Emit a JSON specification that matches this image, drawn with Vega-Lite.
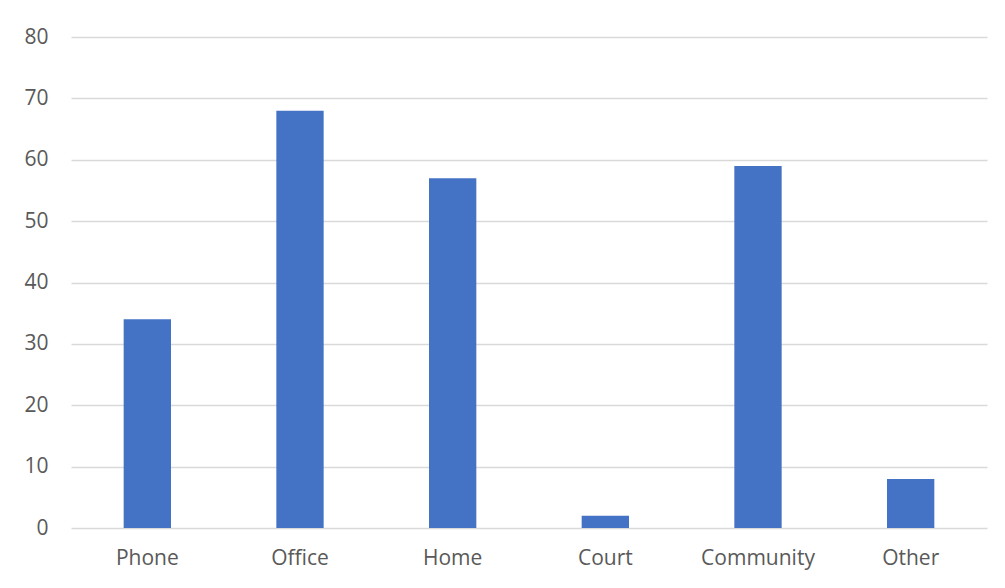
{
  "$schema": "https://vega.github.io/schema/vega-lite/v6.json",
  "autosize": "none",
  "width": 916,
  "height": 491,
  "padding": {"left": 71, "top": 37, "right": 18, "bottom": 60},
  "background": "white",
  "data": {"values": [
    {"category": "Phone", "value": 34},
    {"category": "Office", "value": 68},
    {"category": "Home", "value": 57},
    {"category": "Court", "value": 2},
    {"category": "Community", "value": 59},
    {"category": "Other", "value": 8}
  ]},
  "mark": {"type": "bar", "color": "#4472C4"},
  "encoding": {
    "x": {
      "field": "category", "type": "nominal", "sort": null,
      "scale": {"paddingInner": 0.69, "paddingOuter": 0.345},
      "axis": {"title": null, "labelAngle": 0, "domain": false, "ticks": false, "labelPadding": 19, "labelFontSize": 21, "labelFont": "Open Sans", "labelColor": "#595959"}
    },
    "y": {
      "field": "value", "type": "quantitative",
      "scale": {"domain": [0, 80], "nice": false},
      "axis": {"title": null, "values": [0,10,20,30,40,50,60,70,80], "domain": false, "ticks": false, "labelPadding": 23, "labelFontSize": 21, "labelFont": "Open Sans", "labelColor": "#595959", "gridColor": "#d9d9d9", "gridWidth": 1.5}
    }
  },
  "config": {"view": {"stroke": null}}
}
